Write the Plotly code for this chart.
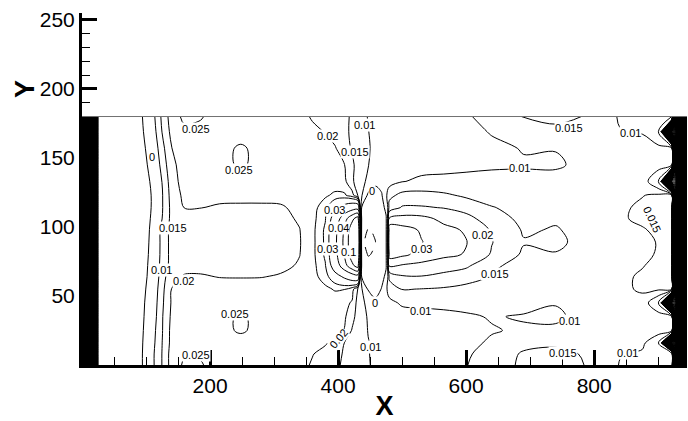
import plotly.graph_objects as go

# Grid nodes of the field (x along the channel, y across it)
X_NODES = [0, 8, 16, 25, 50, 75,
           94, 110, 125, 140, 160, 185, 215, 248, 280, 310, 340,
           360, 380, 395, 410, 422, 431, 437, 447, 458, 468, 475,
           480, 500, 530, 565, 600, 640, 690, 740, 790, 840, 875, 900, 921,
           928, 936, 945]
Y_NODES = [0, 8, 16, 25, 35, 45, 55, 64, 72, 80, 89, 98, 106, 114, 123, 133, 145, 157, 169, 180]

# Values next to the two end walls (same on every row)
WALL_LEFT = [-1.2, -0.7, -0.3, -0.045, -0.025, -0.012]
WALL_RIGHT = [-0.3, -0.7, -1.2]

# Interior values, one list per y row (x = 94 ... 921)
Z_Y000 = [-0.0002, 0.0089, 0.0151, 0.0222, 0.0258, 0.0255, 0.0225, 0.0225, 0.0225, 0.0222, 0.0215,
          0.0195, 0.0175, 0.016, 0.0142, 0.0128, 0.012, 0.0112, 0.0103, 0.0093, 0.0087, 0.0083,
          0.008, 0.0074, 0.0071, 0.0074, 0.0098, 0.0128, 0.0158, 0.0165, 0.0148, 0.0098, 0.0088, 0.0085, 0.0083]
Z_Y008 = [-0.0002, 0.0089, 0.0151, 0.0222, 0.0245, 0.0243, 0.0225, 0.0225, 0.0225, 0.0222, 0.022,
          0.0202, 0.0185, 0.0165, 0.0145, 0.013, 0.012, 0.0112, 0.0102, 0.0092, 0.0085, 0.0082,
          0.008, 0.0075, 0.0072, 0.0074, 0.0092, 0.0125, 0.0155, 0.0162, 0.0145, 0.0102, 0.0092, 0.009, 0.0088]
Z_Y016 = [-0.0005, 0.0083, 0.0149, 0.0215, 0.0228, 0.0228, 0.0225, 0.0225, 0.0225, 0.0225, 0.0225,
          0.0218, 0.0205, 0.0185, 0.0149, 0.0132, 0.0122, 0.0115, 0.0102, 0.009, 0.0082, 0.0078,
          0.0076, 0.0072, 0.007, 0.0072, 0.0085, 0.0108, 0.0138, 0.0142, 0.0135, 0.0122, 0.0112, 0.005, -0.25]
Z_Y025 = [-0.001, 0.0078, 0.0146, 0.0215, 0.0225, 0.0225, 0.0232, 0.0258, 0.0232, 0.0225, 0.0225,
          0.0225, 0.022, 0.0212, 0.0198, 0.0145, 0.0128, 0.012, 0.0098, 0.0088, 0.0082, 0.008,
          0.0078, 0.0075, 0.0073, 0.0075, 0.0082, 0.0096, 0.0108, 0.0107, 0.0122, 0.0125, 0.0125, 0.0125, 0.0125]
Z_Y035 = [-0.0015, 0.0068, 0.0145, 0.021, 0.0225, 0.0225, 0.0232, 0.0258, 0.0232, 0.0225, 0.0225,
          0.0225, 0.0222, 0.0215, 0.0207, 0.0168, 0.0128, 0.0118, 0.0095, 0.0085, 0.008, 0.0078,
          0.0077, 0.0077, 0.0078, 0.0082, 0.0092, 0.0104, 0.0095, 0.0093, 0.0115, 0.0125, 0.0128, 0.013, 0.0132]
Z_Y045 = [-0.002, 0.0063, 0.014, 0.0205, 0.0225, 0.0225, 0.0225, 0.0225, 0.0225, 0.0225, 0.0225,
          0.0225, 0.0225, 0.022, 0.0212, 0.0195, 0.0128, 0.0112, 0.0085, 0.003, 0.005, 0.007,
          0.0085, 0.0108, 0.0113, 0.0118, 0.012, 0.0125, 0.012, 0.0102, 0.0125, 0.0132, 0.0138, 0.004, -0.27]
Z_Y055 = [-0.003, 0.0056, 0.0135, 0.0201, 0.0222, 0.0225, 0.0225, 0.0225, 0.0225, 0.0225, 0.0222,
          0.0226, 0.0238, 0.0255, 0.0252, 0.022, 0.0145, 0.0108, -0.001, -0.005, 0.0005, 0.009,
          0.0125, 0.0152, 0.0149, 0.0145, 0.0138, 0.0135, 0.0132, 0.013, 0.013, 0.0142, 0.0155, 0.0158, 0.016]
Z_Y064 = [-0.004, 0.0044, 0.0128, 0.0184, 0.0205, 0.0205, 0.0198, 0.0197, 0.0198, 0.0205, 0.0215,
          0.023, 0.0275, 0.035, 0.042, 0.048, 0.05, -0.001, -0.004, -0.005, -0.003, 0.002,
          0.016, 0.0195, 0.0198, 0.0185, 0.0168, 0.0148, 0.0138, 0.0133, 0.013, 0.0142, 0.0155, 0.0162, 0.0165]
Z_Y072 = [-0.0045, 0.0039, 0.0122, 0.0165, 0.0182, 0.0185, 0.0186, 0.0186, 0.0186, 0.0188, 0.0205,
          0.0232, 0.0295, 0.047, 0.072, 0.095, 0.11, -0.003, -0.007, -0.007, -0.005, -0.001,
          0.026, 0.0245, 0.0235, 0.0225, 0.021, 0.0155, 0.014, 0.0138, 0.0133, 0.0135, 0.0148, 0.016, 0.0165]
Z_Y080 = [-0.005, 0.0033, 0.0119, 0.0165, 0.018, 0.0183, 0.0183, 0.0183, 0.0184, 0.0186, 0.0199,
          0.0235, 0.031, 0.053, 0.082, 0.112, 0.135, -0.006, -0.0105, -0.009, -0.006, -0.001,
          0.032, 0.031, 0.0285, 0.026, 0.0247, 0.0195, 0.0142, 0.0148, 0.0135, 0.0135, 0.0145, 0.0152, 0.0165]
Z_Y089 = [-0.0055, 0.0029, 0.0119, 0.0165, 0.018, 0.0182, 0.0182, 0.0182, 0.0183, 0.0185, 0.0197,
          0.0235, 0.031, 0.055, 0.085, 0.115, 0.14, -0.008, -0.0125, -0.0102, -0.006, -0.001,
          0.035, 0.0335, 0.0302, 0.0275, 0.0252, 0.0202, 0.0153, 0.0157, 0.0138, 0.0135, 0.0145, 0.0151, 0.0165]
Z_Y098 = [-0.006, 0.0025, 0.0119, 0.0165, 0.018, 0.0183, 0.0183, 0.0183, 0.0184, 0.0186, 0.0199,
          0.0235, 0.031, 0.053, 0.082, 0.112, 0.135, -0.006, -0.0105, -0.009, -0.006, -0.001,
          0.033, 0.0318, 0.0295, 0.0262, 0.0245, 0.0195, 0.0145, 0.0153, 0.0135, 0.0138, 0.0145, 0.0162, 0.017]
Z_Y106 = [-0.0065, 0.0017, 0.0099, 0.0165, 0.0182, 0.0185, 0.0185, 0.0185, 0.0186, 0.0188, 0.0205,
          0.0232, 0.0295, 0.047, 0.072, 0.095, 0.11, -0.003, -0.007, -0.007, -0.005, -0.001,
          0.026, 0.0268, 0.0265, 0.0238, 0.0218, 0.0172, 0.0138, 0.0145, 0.0135, 0.0142, 0.0162, 0.0172, 0.0172]
Z_Y114 = [-0.007, 0.001, 0.0095, 0.0165, 0.0201, 0.0201, 0.0192, 0.019, 0.019, 0.0193, 0.0215,
          0.023, 0.028, 0.038, 0.045, 0.05, 0.05, -0.001, -0.004, -0.005, -0.003, 0.002,
          0.017, 0.0205, 0.0205, 0.0198, 0.018, 0.0152, 0.0138, 0.0135, 0.0133, 0.0142, 0.0158, 0.0165, 0.0168]
Z_Y123 = [-0.007, 0.001, 0.0095, 0.017, 0.0212, 0.0218, 0.0218, 0.0218, 0.0218, 0.0218, 0.0222,
          0.0228, 0.0242, 0.026, 0.0258, 0.022, 0.0145, 0.0108, -0.002, -0.006, -0.001, 0.009,
          0.0135, 0.0165, 0.0168, 0.0158, 0.0142, 0.0135, 0.013, 0.013, 0.013, 0.0138, 0.0148, 0.0158, 0.0162]
Z_Y133 = [-0.006, 0.0021, 0.0101, 0.0177, 0.0222, 0.0225, 0.0225, 0.0225, 0.0225, 0.0225, 0.0225,
          0.0225, 0.0225, 0.0222, 0.0212, 0.0158, 0.0128, 0.011, 0.0092, 0.003, 0.004, 0.0065,
          0.0078, 0.0098, 0.0108, 0.0112, 0.0115, 0.0118, 0.0115, 0.0118, 0.0128, 0.013, 0.0135, 0.004, -0.28]
Z_Y145 = [-0.004, 0.004, 0.0119, 0.0186, 0.0225, 0.0225, 0.0232, 0.0258, 0.0232, 0.0225, 0.0225,
          0.0225, 0.0222, 0.0218, 0.0201, 0.0158, 0.0135, 0.012, 0.0101, 0.0092, 0.0088, 0.0087,
          0.0087, 0.0086, 0.0085, 0.0085, 0.0088, 0.0092, 0.0095, 0.0093, 0.0115, 0.0128, 0.0128, 0.0128, 0.0128]
Z_Y157 = [-0.0025, 0.0055, 0.0133, 0.0199, 0.0225, 0.0225, 0.0232, 0.0258, 0.0232, 0.0225, 0.0225,
          0.0218, 0.021, 0.0205, 0.0168, 0.0145, 0.013, 0.0118, 0.0103, 0.0092, 0.0085, 0.008,
          0.0078, 0.0072, 0.0068, 0.007, 0.0075, 0.0088, 0.0103, 0.0102, 0.0118, 0.0122, 0.0118, 0.0115, 0.0112]
Z_Y169 = [-0.001, 0.007, 0.0151, 0.0215, 0.0238, 0.0235, 0.0225, 0.0225, 0.0225, 0.0225, 0.0222,
          0.021, 0.0198, 0.0178, 0.016, 0.0142, 0.0125, 0.0114, 0.0101, 0.009, 0.0083, 0.008,
          0.0078, 0.0073, 0.007, 0.0072, 0.0082, 0.0104, 0.0128, 0.0142, 0.0138, 0.0102, 0.0097, 0.004, -0.26]
Z_Y180 = [-0.0002, 0.008, 0.016, 0.0225, 0.0262, 0.0255, 0.0225, 0.0225, 0.0225, 0.0222, 0.0215,
          0.0195, 0.0175, 0.0165, 0.0158, 0.0145, 0.0125, 0.0112, 0.0098, 0.0088, 0.0082, 0.008,
          0.0078, 0.0074, 0.0072, 0.0075, 0.0092, 0.0125, 0.0152, 0.0158, 0.0148, 0.0095, 0.008, 0.007, 0.006]

ROWS = [Z_Y000, Z_Y008, Z_Y016, Z_Y025, Z_Y035, Z_Y045, Z_Y055, Z_Y064, Z_Y072, Z_Y080,
        Z_Y089, Z_Y098, Z_Y106, Z_Y114, Z_Y123, Z_Y133, Z_Y145, Z_Y157, Z_Y169, Z_Y180]

# Contour levels (start, end, step)
LEVELS_MAIN = (0.01, 0.03, 0.005)
LEVELS_HIGH = (0.04, 0.1, 0.02)
LEVEL_ZERO = 0.0
LEVEL_NEG = -0.01
LEVELS_WALL = (-1.2, -0.05, 0.005)

# Contour labels: level, x, y, text angle
LABELS = [
    (0.025, 178, 171, 0), (0.0, 109, 151, 0), (0.025, 245, 141, 0),
    (0.015, 142, 99, 0), (0.01, 124, 69, 0), (0.02, 159, 61, 0),
    (0.025, 239, 37, 0), (0.025, 178, 7, 0),
    (0.02, 383, 166, 0), (0.01, 442, 174, 0), (0.015, 427, 154, 0), (0.0, 453, 126, 0),
    (0.03, 394, 112, 0), (0.04, 400, 99, 0), (0.03, 383, 84, 0), (0.1, 417, 82, 0),
    (0.03, 531, 84, 0), (0.02, 625, 94, 0), (0.015, 645, 66, 0), (0.01, 528, 39, 0),
    (0.0, 458, 45, 0), (0.02, 400, 19, -50), (0.01, 450, 13, 0),
    (0.01, 684, 143, 0), (0.015, 761, 172, 0), (0.01, 856, 168, 0),
    (0.015, 891, 105, 65), (0.01, 762, 32, 0), (0.015, 752, 9, 0), (0.01, 852, 9, 0),
]

X_TICKS = [200, 400, 600, 800]
Y_TICKS = [50, 100, 150, 200, 250]

FONT = "Liberation Sans, Arial, sans-serif"

Z = [WALL_LEFT + row + WALL_RIGHT for row in ROWS]
for row in Z:
    assert len(row) == len(X_NODES)
assert len(Z) == len(Y_NODES)

fig = go.Figure()


def add_levels(x, y, z, start, end, step, dash="solid", smoothing=1.0, width=1.0):
    fig.add_trace(go.Contour(
        x=x, y=y, z=z,
        autocontour=False,
        contours=dict(start=start, end=end + step * 1e-3, size=step,
                      coloring="none", showlabels=False),
        line=dict(color="black", width=width, dash=dash, smoothing=smoothing),
        showscale=False, hoverinfo="skip",
    ))


# dense bands at both walls
add_levels(X_NODES, Y_NODES, Z, *LEVELS_WALL, smoothing=0, width=1)
# regular levels
add_levels(X_NODES, Y_NODES, Z, *LEVELS_MAIN, smoothing=1.0)
add_levels(X_NODES, Y_NODES, Z, *LEVELS_HIGH, smoothing=1.0)
add_levels(X_NODES, Y_NODES, Z, LEVEL_ZERO, LEVEL_ZERO, 1.0, smoothing=1.0)

# negative level inside the recirculation bubble only
cols = [i for i, xv in enumerate(X_NODES) if 431 <= xv <= 480]
x_sub = [X_NODES[i] for i in cols]
z_sub = [[row[i] for i in cols] for row in Z]
add_levels(x_sub, Y_NODES, z_sub, LEVEL_NEG, LEVEL_NEG, 1.0, dash="dash", smoothing=1.0)

annotations = []
for lvl, lx, ly, ang in LABELS:
    annotations.append(dict(
        x=lx, y=ly, xref="x", yref="y", text=f"{lvl:g}", showarrow=False,
        textangle=ang, font=dict(family=FONT, size=11, color="black"),
        bgcolor="white", borderpad=0,
    ))
annotations.append(dict(
    x=-0.094, y=200, xref="paper", yref="y", xanchor="center", yanchor="middle",
    text="<b>Y</b>", showarrow=False,
    textangle=-90, font=dict(family=FONT, size=27, color="black"),
))

fig.update_layout(
    width=688, height=421,
    margin=dict(l=82, r=1, t=13, b=51),
    paper_bgcolor="white", plot_bgcolor="white",
    showlegend=False,
    annotations=annotations,
    shapes=[dict(type="line", xref="x", yref="y",
                 x0=X_NODES[0], x1=X_NODES[-1], y0=Y_NODES[-1], y1=Y_NODES[-1],
                 line=dict(color="#707070", width=1), layer="above")],
    xaxis=dict(
        range=[X_NODES[0], X_NODES[-1]], tickvals=X_TICKS, ticks="inside",
        ticklen=15, tickwidth=3, tickcolor="black",
        showline=True, linewidth=3, linecolor="black",
        showgrid=False, zeroline=False,
        tickfont=dict(family=FONT, size=21, color="black"),
        minor=dict(ticks="inside", ticklen=8, tickwidth=1, tickcolor="black", dtick=50, tick0=0),
        title=dict(text="<b>X</b>", font=dict(family=FONT, size=27, color="black"), standoff=4),
    ),
    yaxis=dict(
        range=[0, 255], tickvals=Y_TICKS, ticks="inside",
        ticklen=15, tickwidth=3, tickcolor="black",
        showline=True, linewidth=3, linecolor="black",
        showgrid=False, zeroline=False,
        tickfont=dict(family=FONT, size=21, color="black"),
        minor=dict(ticks="inside", ticklen=8, tickwidth=1, tickcolor="black", dtick=10, tick0=0),
    ),
)

fig.write_html("out.html")
